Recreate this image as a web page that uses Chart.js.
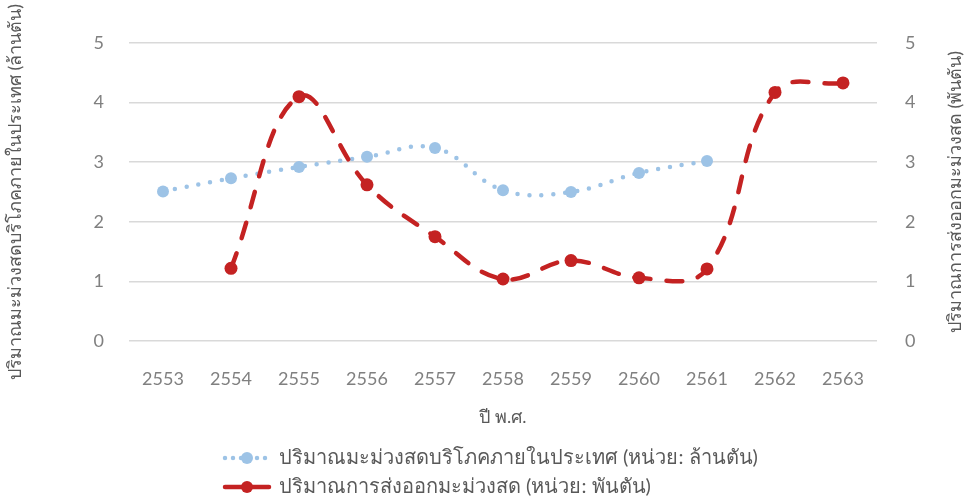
<!DOCTYPE html>
<html>
<head>
<meta charset="utf-8">
<script src="https://cdn.jsdelivr.net/npm/chart.js@4"></script>
<style>
  body { margin: 0; background: #fff; }
  #wrap { width: 970px; height: 503px; }
</style>
</head>
<body>
<div id="wrap"><canvas id="chart" width="970" height="503"></canvas></div>
<script>
// ข้อมูลจากกราฟ
const years = ['2553', '2554', '2555', '2556', '2557', '2558', '2559', '2560', '2561', '2562', '2563'];
const domesticMillionTons = [2.51, 2.73, 2.92, 3.09, 3.24, 2.53, 2.50, 2.82, 3.02, null, null];
const exportThousandTons = [null, 1.22, 4.10, 2.62, 1.75, 1.04, 1.35, 1.06, 1.21, 4.17, 4.33];
const yTicks = [0, 1, 2, 3, 4, 5];

const labelDomestic = 'ปริมาณมะม่วงสดบริโภคภายในประเทศ (หน่วย: ล้านตัน)';
const labelExport = 'ปริมาณการส่งออกมะม่วงสด (หน่วย: พันตัน)';
const titleRight = 'ปริมาณการส่งออกมะม่วงสด (พันตัน)';

const blue = '#9DC3E6';
const red = '#C42222';
const fontFam = "Lato, 'Noto Sans', 'Open Sans', sans-serif";

// legend + ชื่อแกนขวา วาดเอง (ต้นฉบับหมุนตัวอักษรแบบเดียวกับแกนซ้าย)
const extras = {
  id: 'extras',
  afterDraw(chart) {
    const ctx = chart.ctx;
    const rows = [
      { ds: chart.data.datasets[0], y: 458 },
      { ds: chart.data.datasets[1], y: 487 }
    ];
    rows.forEach(r => {
      ctx.save();
      ctx.strokeStyle = r.ds.borderColor;
      ctx.lineWidth = r.ds.borderWidth;
      ctx.lineCap = r.ds.borderCapStyle;
      ctx.setLineDash(r.ds.legendDash);
      ctx.beginPath();
      ctx.moveTo(225, r.y);
      ctx.lineTo(269, r.y);
      ctx.stroke();
      ctx.setLineDash([]);
      ctx.fillStyle = r.ds.pointBackgroundColor;
      ctx.beginPath();
      ctx.arc(247, r.y, 6, 0, Math.PI * 2);
      ctx.fill();
      ctx.fillStyle = '#595959';
      ctx.font = '20px ' + fontFam;
      ctx.textBaseline = 'middle';
      ctx.fillText(r.ds.label, 279, r.y);
      ctx.restore();
    });

    const area = chart.chartArea;
    ctx.save();
    ctx.translate(955, (area.top + area.bottom) / 2);
    ctx.rotate(-Math.PI / 2);
    ctx.fillStyle = '#595959';
    ctx.font = '18px ' + fontFam;
    ctx.textAlign = 'center';
    ctx.textBaseline = 'middle';
    ctx.fillText(titleRight, 0, 0);
    ctx.restore();
  }
};

new Chart(document.getElementById('chart'), {
  type: 'line',
  data: {
    labels: years,
    datasets: [
      {
        label: labelDomestic,
        data: domesticMillionTons,
        yAxisID: 'y',
        borderColor: blue,
        backgroundColor: blue,
        pointBackgroundColor: blue,
        pointBorderWidth: 0,
        pointRadius: 6,
        borderWidth: 4.5,
        borderCapStyle: 'round',
        borderDash: [0, 12],
        legendDash: [0, 8],
        tension: 0.4,
        order: 2
      },
      {
        label: labelExport,
        data: exportThousandTons,
        yAxisID: 'y2',
        borderColor: red,
        backgroundColor: red,
        pointBackgroundColor: red,
        pointBorderWidth: 0,
        pointRadius: 6.5,
        borderWidth: 4.5,
        borderCapStyle: 'round',
        borderDash: [16, 16],
        legendDash: [],
        tension: 0.4,
        order: 1
      }
    ]
  },
  options: {
    responsive: false,
    animation: false,
    layout: { padding: { top: 43, bottom: 73, left: 0, right: 0 } },
    plugins: {
      legend: { display: false },
      tooltip: { enabled: false }
    },
    scales: {
      x: {
        offset: true,
        grid: { display: false, drawTicks: false },
        border: { display: false },
        ticks: { color: '#808080', font: { size: 18, family: fontFam }, padding: 27 },
        title: { display: true, text: 'ปี พ.ศ.', color: '#595959', font: { size: 18, family: fontFam }, padding: { top: 4, bottom: 2 } },
        afterFit(s) { s.height = 89; }
      },
      y: {
        position: 'left',
        min: 0, max: 5,
        afterBuildTicks(s) { s.ticks = yTicks.map(v => ({ value: v })); },
        grid: { color: '#D9D9D9', lineWidth: 1.5, drawTicks: false },
        border: { display: false },
        ticks: { color: '#808080', font: { size: 18, family: fontFam }, padding: 25 },
        title: { display: true, text: 'ปริมาณมะม่วงสดบริโภคภายในประเทศ (ล้านตัน)', color: '#595959', font: { size: 18, family: fontFam }, padding: 4 },
        afterFit(s) { s.width = 129; }
      },
      y2: {
        position: 'right',
        min: 0, max: 5,
        afterBuildTicks(s) { s.ticks = yTicks.map(v => ({ value: v })); },
        grid: { display: false, drawTicks: false },
        border: { display: false },
        ticks: { color: '#808080', font: { size: 18, family: fontFam }, padding: 28 },
        title: { display: false },
        afterFit(s) { s.width = 93; }
      }
    }
  },
  plugins: [extras]
});
</script>
</body>
</html>
